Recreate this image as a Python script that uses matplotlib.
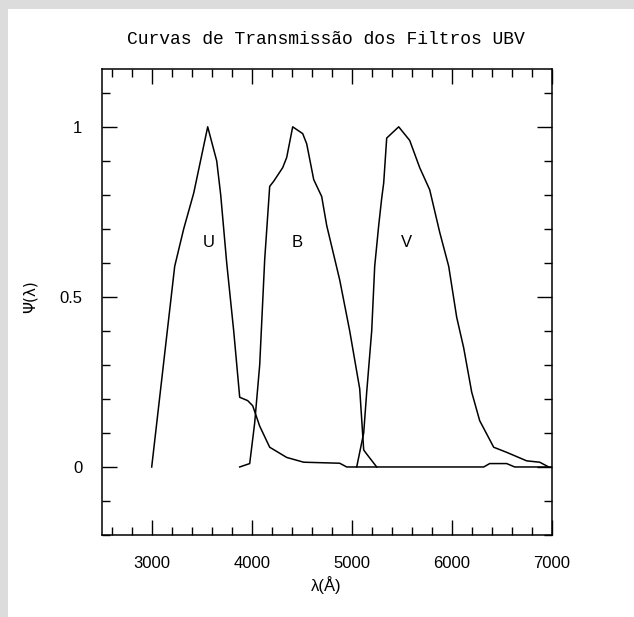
import matplotlib
matplotlib.use("Agg")
import matplotlib.pyplot as plt
from matplotlib.patches import Rectangle
from matplotlib.ticker import MultipleLocator

# transmission curves (wavelength in Angstrom)
u_wave = [3000, 3230, 3320, 3420, 3560, 3650, 3690, 3750, 3820, 3880, 3960, 4010,
          4080, 4180, 4350, 4520, 4880, 4950, 6320, 6380, 6550, 6630, 7000]
u_trans = [0.0, 0.59, 0.70, 0.805, 1.0, 0.90, 0.80, 0.60, 0.40, 0.205, 0.195, 0.18,
           0.12, 0.058, 0.028, 0.014, 0.011, 0.0, 0.0, 0.01, 0.01, 0.0, 0.0]

b_wave = [3880, 3980, 4030, 4080, 4130, 4180, 4220, 4310, 4350, 4410, 4510, 4550,
          4620, 4700, 4750, 4880, 4980, 5080, 5120, 5150, 5250]
b_trans = [0.0, 0.01, 0.13, 0.30, 0.61, 0.825, 0.84, 0.88, 0.91, 1.0, 0.98, 0.95,
           0.845, 0.795, 0.71, 0.55, 0.40, 0.23, 0.05, 0.038, 0.0]

v_wave = [5050, 5120, 5150, 5200, 5230, 5270, 5300, 5320, 5350, 5470, 5580, 5680,
          5780, 5880, 5970, 6050, 6120, 6200, 6280, 6420, 6550, 6750, 6880, 6970]
v_trans = [0.0, 0.10, 0.22, 0.40, 0.59, 0.71, 0.79, 0.835, 0.967, 1.0, 0.96, 0.88,
           0.815, 0.69, 0.59, 0.44, 0.35, 0.22, 0.136, 0.058, 0.043, 0.018, 0.014, 0.0]

filter_names = ["U", "B", "V"]
label_x = [3575, 4450, 5545]
label_y = [0.66, 0.66, 0.66]

plt.rcParams['font.family'] = ['Liberation Sans', 'DejaVu Sans']

fig = plt.figure(figsize=(6.34, 6.17), dpi=100)
fig.patch.set_facecolor("#dcdcdc")
fig.patches.append(Rectangle((8 / 634, 0), 1, (617 - 9) / 617, transform=fig.transFigure,
                             facecolor="white", edgecolor="none", zorder=-10))

ax = fig.add_axes([101.7 / 634, (617 - 535) / 617, 450 / 634, 466 / 617])
ax.set_facecolor("white")

for w, t in [(u_wave, u_trans), (b_wave, b_trans), (v_wave, v_trans)]:
    ax.plot(w, t, color="black", lw=1.1)

for name, x, y in zip(filter_names, label_x, label_y):
    ax.text(x, y, name, ha="center", va="center", fontsize=12)

ax.set_xlim(2500, 7000)
ax.set_ylim(-0.2, 1.17)
ax.xaxis.set_major_locator(MultipleLocator(1000))
ax.xaxis.set_minor_locator(MultipleLocator(200))
ax.yaxis.set_minor_locator(MultipleLocator(0.1))
ax.set_yticks([0, 0.5, 1])
ax.set_yticklabels(["0", "0.5", "1"])

ax.tick_params(which="both", direction="in", top=True, right=True, width=1.0,
               labelsize=12, color="black")
ax.tick_params(which="major", length=11)
ax.tick_params(which="minor", length=6)
ax.tick_params(axis="x", pad=15)
ax.tick_params(axis="y", pad=14)
for s in ax.spines.values():
    s.set_linewidth(1.1)

ax.set_xlabel("λ(Å)", fontsize=12, labelpad=4)
fig.text(30 / 634, (617 - 297) / 617, "Ψ(λ)", rotation=90, ha="center", va="center",
         fontsize=11, fontfamily=["DejaVu Sans"])
fig.text(326 / 634, (617 - 40) / 617, "Curvas de Transmissão dos Filtros UBV",
         ha="center", va="center", fontsize=13, fontfamily=["Liberation Mono", "DejaVu Sans Mono"])

fig.savefig("out.png", dpi=100, facecolor=fig.get_facecolor())
